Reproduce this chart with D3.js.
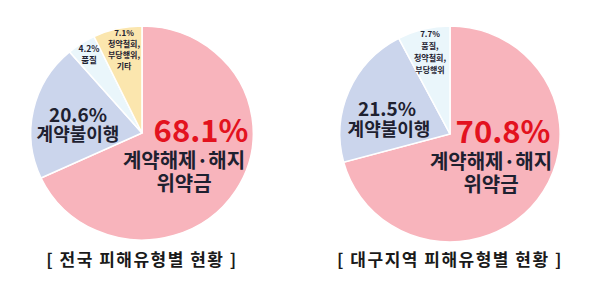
<!DOCTYPE html>
<html><head><meta charset="utf-8">
<script src="https://cdn.jsdelivr.net/npm/d3@7"></script>
<style>
html,body{margin:0;padding:0;background:#fff;}
svg{display:block;}
text{font-family:"Noto Sans CJK KR","Noto Sans",sans-serif;}
</style></head>
<body>
<svg id="chart" width="600" height="292"></svg>
<script>
// ---- data ----
const leftCategories = ["계약해제·해지 위약금", "계약불이행", "품질", "청약철회, 부당행위, 기타"];
const leftValues = [68.1, 20.6, 4.2, 7.1];
const leftTitle = "[ 전국 피해유형별 현황 ]";

const rightCategories = ["계약해제·해지 위약금", "계약불이행", "품질, 청약철회, 부당행위"];
const rightValues = [70.8, 21.5, 7.7];
const rightTitle = "[ 대구지역 피해유형별 현황 ]";

const sliceColors = ["#F8B4BC", "#CBD5EC", "#EAF6FB", "#FBE6AE"];

const svg = d3.select("#chart");
const pie = d3.pie().sort(null).value(d => d);

function drawPie(cfg) {
  const g = svg.append("g").attr("transform", `translate(${cfg.cx},${cfg.cy})`);
  const pg = g.append("g").attr("transform", `scale(${cfg.sx},1)`);
  const arc = d3.arc().innerRadius(0).outerRadius(cfg.r);
  const arcs = pie(cfg.values);
  pg.selectAll("path").data(arcs).enter().append("path")
    .attr("d", arc)
    .attr("fill", (d, i) => sliceColors[i])
    .attr("stroke", "#fff")
    .attr("stroke-width", 1.5);

  // labels
  cfg.labels.forEach(lb => {
    const t = g.append("text")
      .attr("text-anchor", "middle")
      .attr("font-weight", lb.w || 700)
      .attr("font-size", lb.fs)
      .attr("fill", lb.color || "#1E2130");
    lb.lines.forEach((ln, k) => {
      t.append("tspan").attr("x", lb.x).attr("y", lb.y + k * lb.lh).text(ln);
    });
  });

  svg.append("text")
    .attr("x", cfg.cx).attr("y", 266)
    .attr("text-anchor", "middle")
    .attr("font-size", 17).attr("font-weight", 700)
    .attr("letter-spacing", 1.5)
    .attr("fill", "#1a1a1a")
    .text(cfg.title);
}

drawPie({
  cx: 142, cy: 133, r: 107, sx: 1.04, values: leftValues, title: leftTitle,
  labels: [
    {x: 59, y: 9, fs: 31, lines: [leftValues[0] + "%"], lh: 0, color: "#E3121E"},
    {x: 42, y: 35, fs: 20, lines: ["계약해제·해지", "위약금"], lh: 23},
    {x: -64, y: -11, fs: 19, lines: [leftValues[1] + "%"], lh: 0},
    {x: -64, y: 8, fs: 18, lines: ["계약불이행"], lh: 0},
    {x: -53, y: -81, fs: 8.5, lines: [leftValues[2] + "%", "품질"], lh: 11},
    {x: -18, y: -97, fs: 8, lines: [leftValues[3] + "%", "청약철회,", "부당행위,", "기타"], lh: 11}
  ]
});

drawPie({
  cx: 450, cy: 134, r: 108, sx: 1.02, values: rightValues, title: rightTitle,
  labels: [
    {x: 53, y: 9, fs: 31, lines: [rightValues[0] + "%"], lh: 0, color: "#E3121E"},
    {x: 41, y: 35, fs: 20, lines: ["계약해제·해지", "위약금"], lh: 23},
    {x: -63, y: -18, fs: 19, lines: [rightValues[1] + "%"], lh: 0},
    {x: -61, y: 2, fs: 18, lines: ["계약불이행"], lh: 0},
    {x: -20, y: -97, fs: 8, lines: [rightValues[2] + "%", "품질,", "청약철회,", "부당행위"], lh: 12}
  ]
});
</script>
</body></html>
